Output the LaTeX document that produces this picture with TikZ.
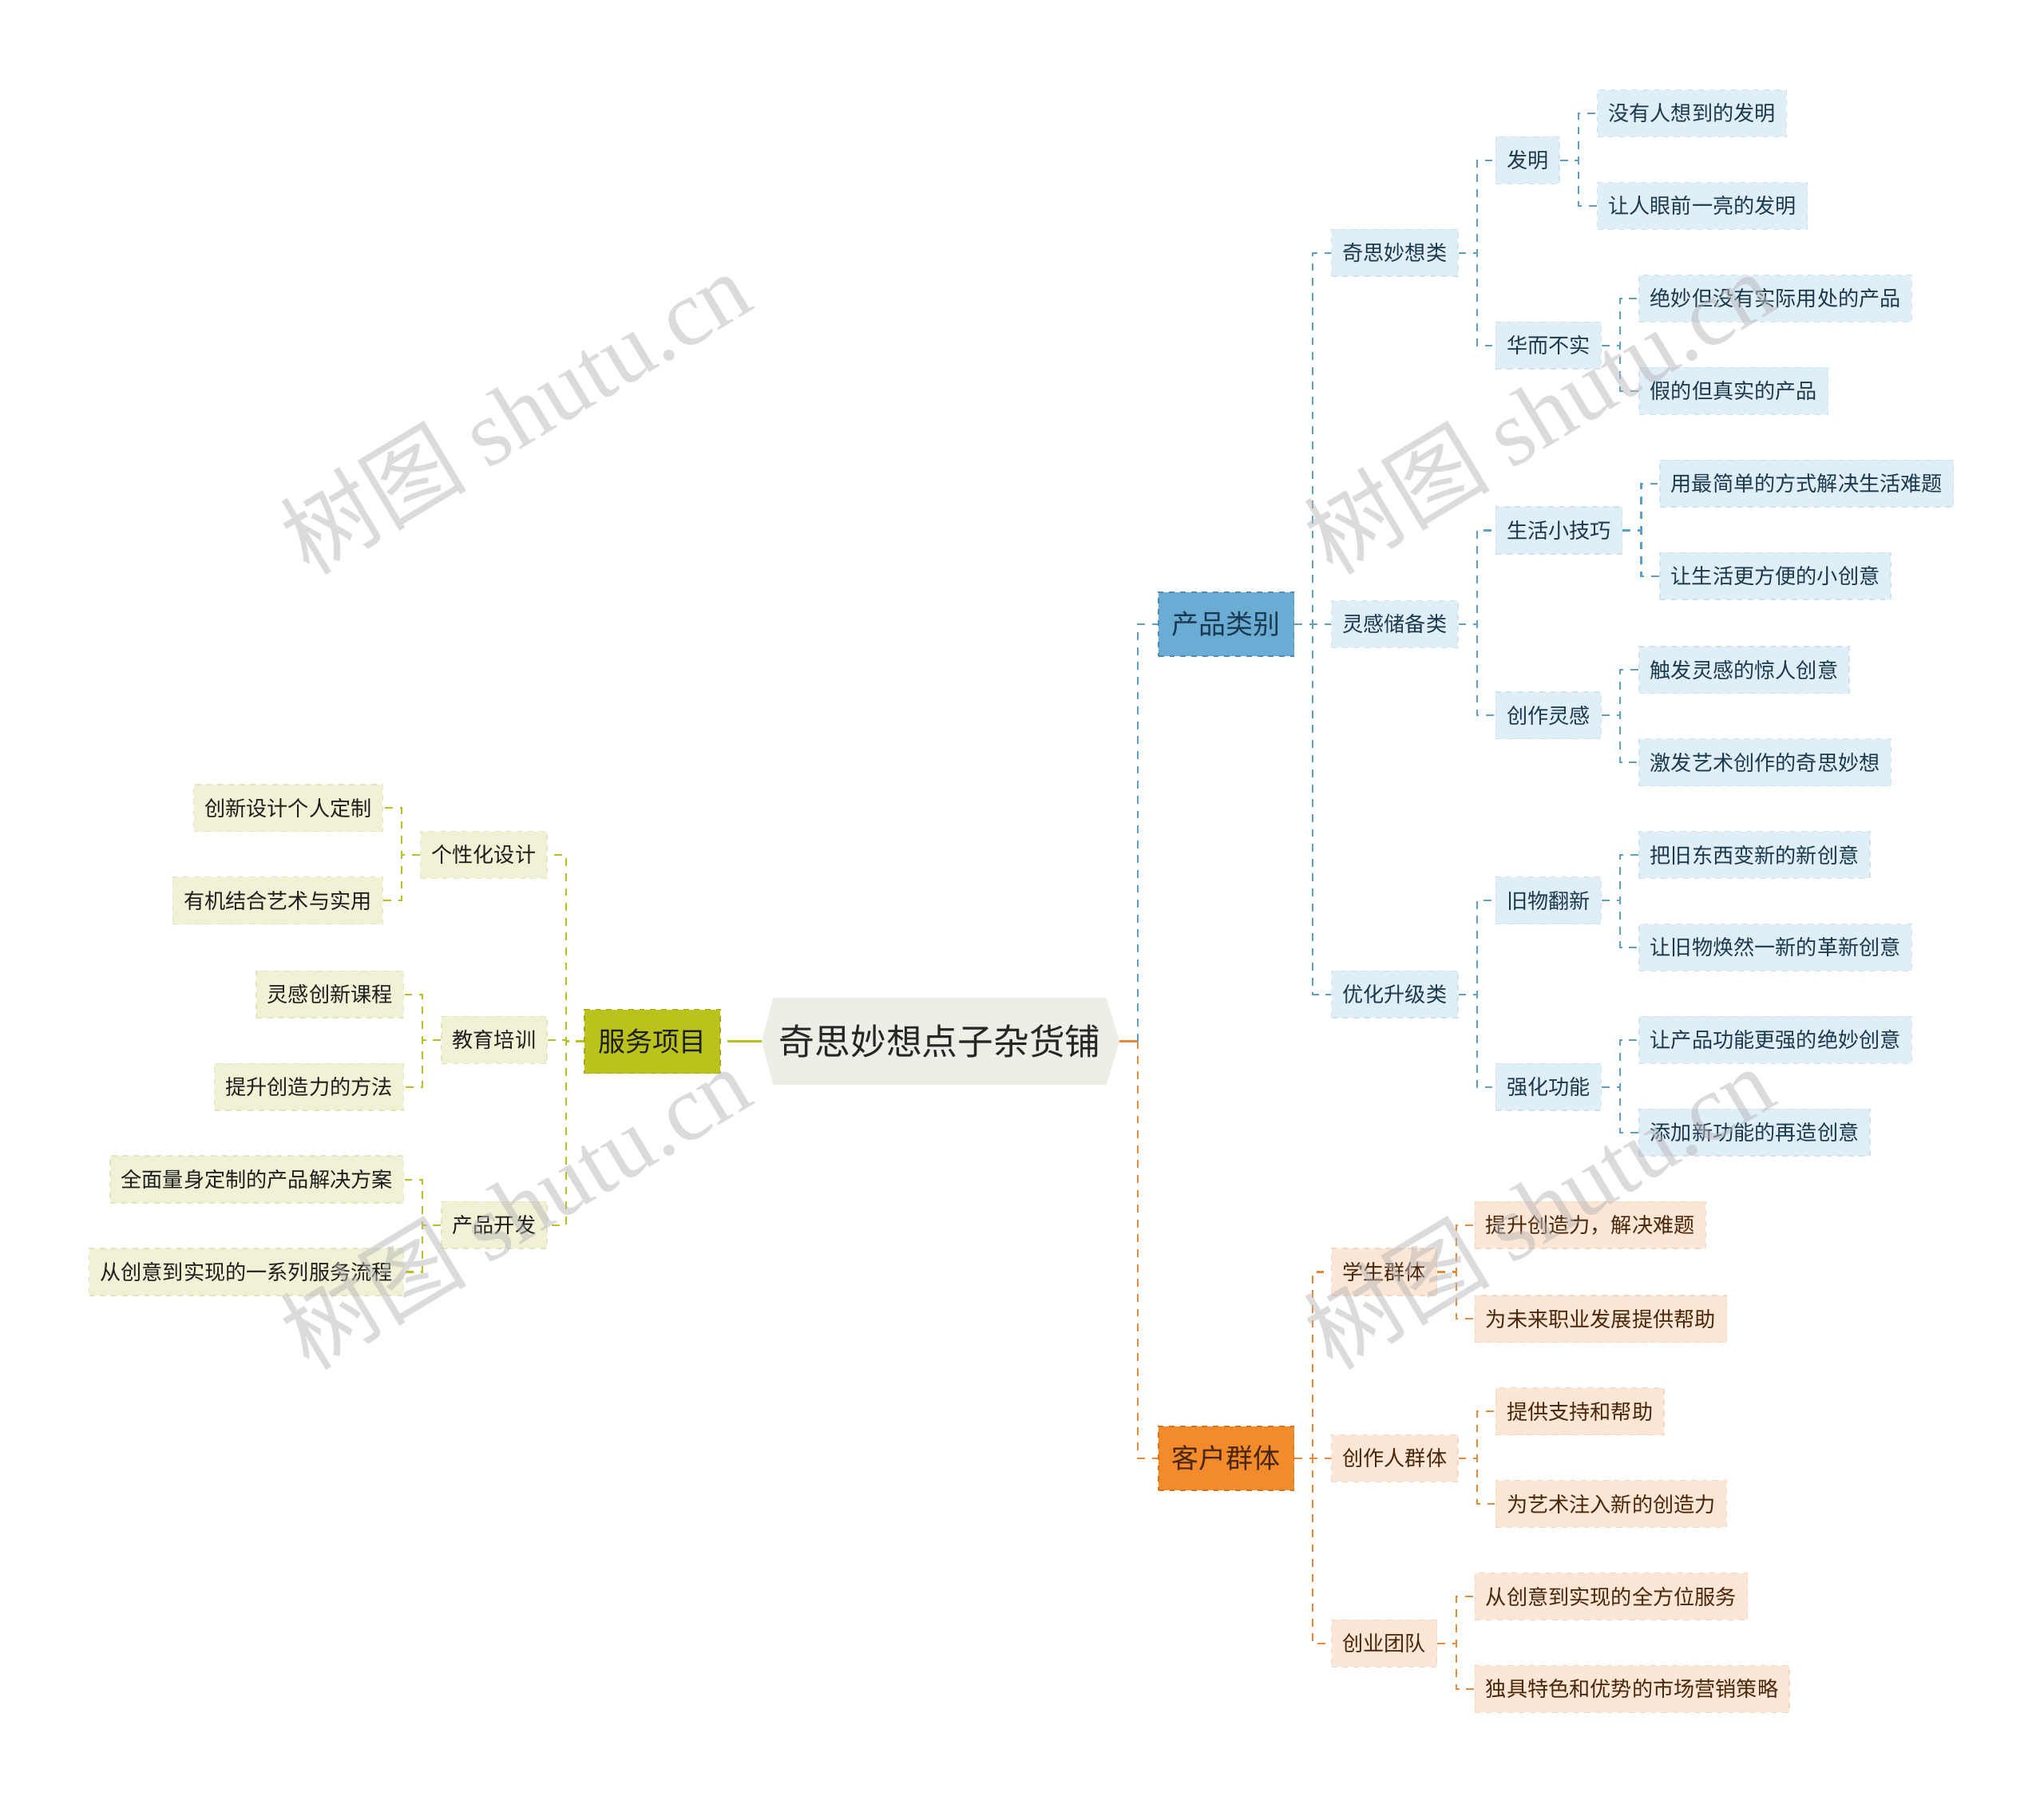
\documentclass[tikz,border=0pt]{standalone}
\usepackage{fontspec}
\setmainfont{Noto Sans CJK SC}
\newfontfamily\wmserif{Liberation Serif}
\usetikzlibrary{backgrounds}
\definecolor{bline}{HTML}{5E9FC6}
\definecolor{bL1fill}{HTML}{6AACD3}
\definecolor{bL1draw}{HTML}{4E8CB3}
\definecolor{bleaf}{HTML}{DFEEF7}
\definecolor{bleafd}{HTML}{CFE3EF}
\definecolor{btext}{HTML}{1B3A50}
\definecolor{oline}{HTML}{E8883A}
\definecolor{oL1fill}{HTML}{F28B2C}
\definecolor{oL1draw}{HTML}{D8731A}
\definecolor{oleaf}{HTML}{FCE6D6}
\definecolor{oleafd}{HTML}{F5D6C0}
\definecolor{otext}{HTML}{4A260A}
\definecolor{gline}{HTML}{B9BF1D}
\definecolor{gL1fill}{HTML}{BBC21C}
\definecolor{gL1draw}{HTML}{A2A812}
\definecolor{gleaf}{HTML}{F1F1D5}
\definecolor{gleafd}{HTML}{E4E4BE}
\definecolor{gtext}{HTML}{1E1E1E}
\definecolor{rootfill}{HTML}{EFEEE6}
\definecolor{wmgray}{HTML}{B8B8B8}
\tikzset{
  conn/.style={line width=0.9pt, dash pattern=on 1.5mm off 1.35mm},
  bconn/.style={conn, draw=bline},
  oconn/.style={conn, draw=oline},
  gconn/.style={conn, draw=gline},
  lvone/.style={rectangle, dashed, line width=0.8pt, minimum height=12.25mm, inner xsep=2.6mm, inner ysep=0pt, font=\fontsize{14.8}{16}\selectfont},
  leaf/.style={rectangle, dashed, line width=0.6pt, minimum height=9mm, inner xsep=2.1mm, inner ysep=0pt, font=\fontsize{11.4}{13}\selectfont},
  bone/.style={lvone, fill=bL1fill, draw=bL1draw, text=btext},
  oone/.style={lvone, fill=oL1fill, draw=oL1draw, text=otext},
  gone/.style={lvone, fill=gL1fill, draw=gL1draw, text=gtext},
  bleafst/.style={leaf, fill=bleaf, draw=bleafd, text=btext, anchor=west},
  oleafst/.style={leaf, fill=oleaf, draw=oleafd, text=otext, anchor=west},
  gleafst/.style={leaf, fill=gleaf, draw=gleafd, text=gtext, anchor=east},
  rootst/.style={rectangle, minimum width=63.75mm, minimum height=16.5mm, inner sep=0pt, font=\fontsize{19.5}{22}\selectfont, text=black!85},
  wm/.style={text=wmgray, text opacity=0.5, rotate=31, font=\fontsize{51}{56}\selectfont}
}
\begin{document}
\begin{tikzpicture}[x=0.25mm, y=-0.25mm]
\useasboundingbox (0,0) rectangle (1568,1384);

% root
\node[rootst] (root) at (721,799) {奇思妙想点子杂货铺};
\begin{scope}[on background layer]
\fill[rootfill] (root.north west) -- (root.north east) -- ([xshift=2.5mm]root.east) -- (root.south east) -- (root.south west) -- ([xshift=-2.25mm]root.west) -- cycle;
\end{scope}
\coordinate (rootL) at ([xshift=-2.25mm]root.west);
\coordinate (rootR) at ([xshift=2.5mm]root.east);
\coordinate (jR) at (873,799);

% level 1
\node[bone, anchor=west] (prod) at (888,479) {产品类别};
\node[oone, anchor=west] (cust) at (888,1119) {客户群体};
\node[gone, anchor=east] (serv) at (553,799) {服务项目};

% product branch
\node[bleafst] (p1) at (1021,194) {奇思妙想类};
\node[bleafst] (p2) at (1021,479) {灵感储备类};
\node[bleafst] (p3) at (1021,763) {优化升级类};
\node[bleafst] (p11) at (1147,123) {发明};
\node[bleafst] (p12) at (1147,265) {华而不实};
\node[bleafst] (p21) at (1147,407) {生活小技巧};
\node[bleafst] (p22) at (1147,549) {创作灵感};
\node[bleafst] (p31) at (1147,691) {旧物翻新};
\node[bleafst] (p32) at (1147,834) {强化功能};
\node[bleafst] (p111) at (1225,87) {没有人想到的发明};
\node[bleafst] (p112) at (1225,158) {让人眼前一亮的发明};
\node[bleafst] (p121) at (1257,229) {绝妙但没有实际用处的产品};
\node[bleafst] (p122) at (1257,300) {假的但真实的产品};
\node[bleafst] (p211) at (1273,371) {用最简单的方式解决生活难题};
\node[bleafst] (p212) at (1273,442) {让生活更方便的小创意};
\node[bleafst] (p221) at (1257,514) {触发灵感的惊人创意};
\node[bleafst] (p222) at (1257,585) {激发艺术创作的奇思妙想};
\node[bleafst] (p311) at (1257,656) {把旧东西变新的新创意};
\node[bleafst] (p312) at (1257,727) {让旧物焕然一新的革新创意};
\node[bleafst] (p321) at (1257,798) {让产品功能更强的绝妙创意};
\node[bleafst] (p322) at (1257,869) {添加新功能的再造创意};

% customer branch
\node[oleafst] (c1) at (1021,976) {学生群体};
\node[oleafst] (c2) at (1021,1119) {创作人群体};
\node[oleafst] (c3) at (1021,1261) {创业团队};
\node[oleafst] (c11) at (1131,940) {提升创造力，解决难题};
\node[oleafst] (c12) at (1131,1012) {为未来职业发展提供帮助};
\node[oleafst] (c21) at (1147,1083) {提供支持和帮助};
\node[oleafst] (c22) at (1147,1154) {为艺术注入新的创造力};
\node[oleafst] (c31) at (1131,1225) {从创意到实现的全方位服务};
\node[oleafst] (c32) at (1131,1296) {独具特色和优势的市场营销策略};

% service branch
\node[gleafst] (s1) at (420,656) {个性化设计};
\node[gleafst] (s2) at (420,798) {教育培训};
\node[gleafst] (s3) at (420,940) {产品开发};
\node[gleafst] (s11) at (294,620) {创新设计个人定制};
\node[gleafst] (s12) at (294,691) {有机结合艺术与实用};
\node[gleafst] (s21) at (310,763) {灵感创新课程};
\node[gleafst] (s22) at (310,834) {提升创造力的方法};
\node[gleafst] (s31) at (310,905) {全面量身定制的产品解决方案};
\node[gleafst] (s32) at (310,976) {从创意到实现的一系列服务流程};

% root connectors
\draw[oline, line width=1.4pt] (rootR) -- (jR);
\draw[bconn] (jR) |- (prod.west);
\draw[oconn] (jR) |- (cust.west);
\draw[gline, line width=1.4pt] ([xshift=1.2mm]serv.east) -- (rootL);

% right side connectors
\foreach \pp/\kids in {prod/{p1,p2,p3}, p1/{p11,p12}, p2/{p21,p22}, p3/{p31,p32},
  p11/{p111,p112}, p12/{p121,p122}, p21/{p211,p212}, p22/{p221,p222}, p31/{p311,p312}, p32/{p321,p322}}{
  \foreach \k in \kids {
    \draw[bconn] (\pp.east) -| ([xshift=-3.5mm]\k.west) -- (\k.west);
  }
}
\foreach \pp/\kids in {cust/{c1,c2,c3}, c1/{c11,c12}, c2/{c21,c22}, c3/{c31,c32}}{
  \foreach \k in \kids {
    \draw[oconn] (\pp.east) -| ([xshift=-3.5mm]\k.west) -- (\k.west);
  }
}
\foreach \pp/\kids in {serv/{s1,s2,s3}, s1/{s11,s12}, s2/{s21,s22}, s3/{s31,s32}}{
  \foreach \k in \kids {
    \draw[gconn] (\pp.west) -| ([xshift=3.5mm]\k.east) -- (\k.east);
  }
}

% watermarks
\node[wm] (wm1) at (395,316) {树图 {\wmserif shutu.cn}};
\node[wm] (wm2) at (395,926) {树图 {\wmserif shutu.cn}};
\node[wm] (wm3) at (1180,316) {树图 {\wmserif shutu.cn}};
\node[wm] (wm4) at (1180,926) {树图 {\wmserif shutu.cn}};
\end{tikzpicture}
\end{document}
